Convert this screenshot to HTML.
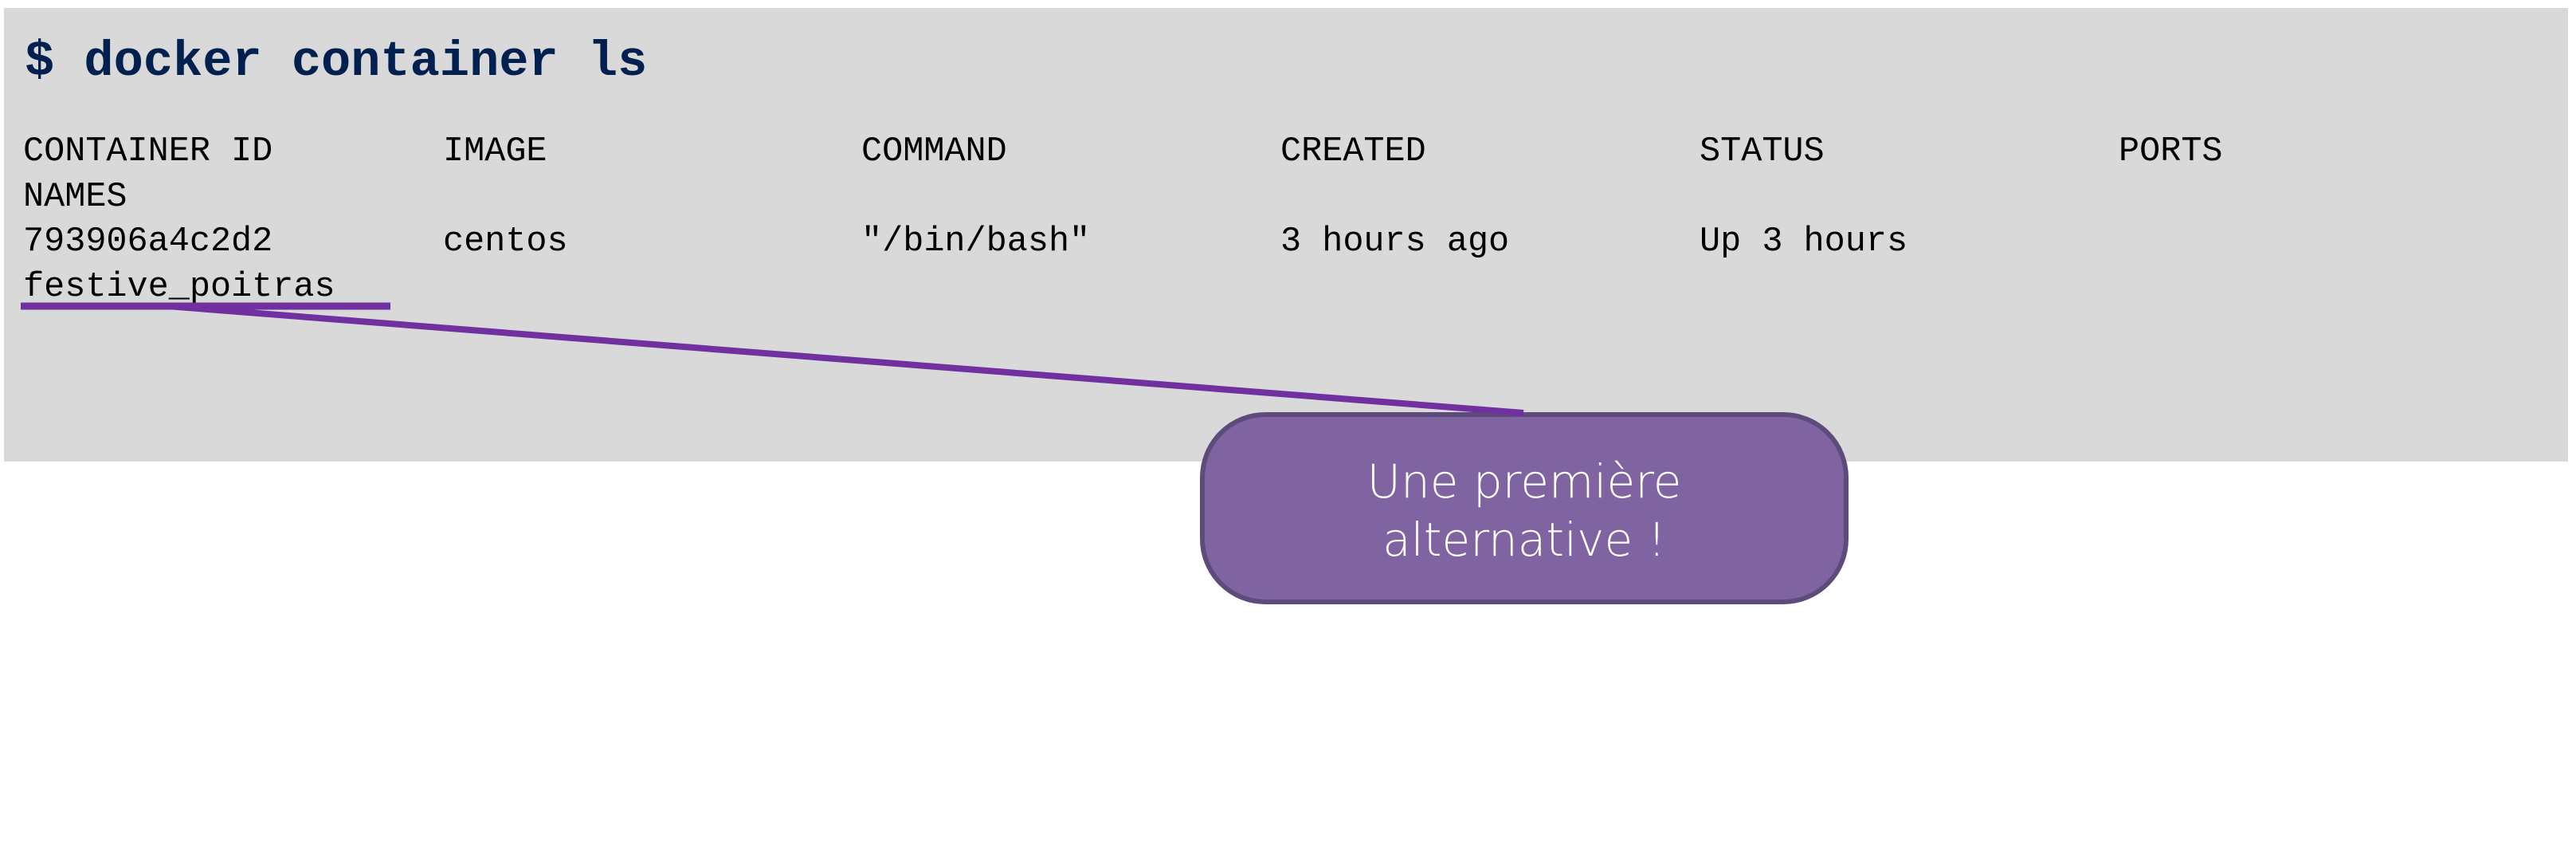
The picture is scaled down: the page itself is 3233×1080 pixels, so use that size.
<!DOCTYPE html>
<html><head><meta charset="utf-8"><style>
html,body{margin:0;padding:0;background:#fff;}
body{width:3233px;height:1080px;position:relative;overflow:hidden;}
#g{position:absolute;left:5px;top:10px;width:3218px;height:569px;background:#d9d9d9;}
.t{position:absolute;font-family:"Liberation Mono",monospace;white-space:pre;}
.h{font-size:62px;font-weight:bold;color:#002050;}
.r{font-size:43.5px;color:#000;}
#box{position:absolute;left:1506px;top:517px;width:802px;height:229px;background:#8064a2;border:6px solid #5f4a7c;border-radius:82px;box-sizing:content-box;}
#bt{position:absolute;left:1506px;top:568px;width:814px;text-align:center;color:#fff;font-family:"DejaVu Sans","Liberation Sans",sans-serif;font-weight:200;font-size:58px;line-height:73px;}
</style></head><body>
<div id="g"></div>
<div class="t h" style="left:31px;top:42px;">$ docker container ls</div>
<div class="t r" style="left:29px;top:166px;">CONTAINER ID</div>
<div class="t r" style="left:556px;top:166px;">IMAGE</div>
<div class="t r" style="left:1081px;top:166px;">COMMAND</div>
<div class="t r" style="left:1607px;top:166px;">CREATED</div>
<div class="t r" style="left:2133px;top:166px;">STATUS</div>
<div class="t r" style="left:2659px;top:166px;">PORTS</div>
<div class="t r" style="left:29px;top:223px;">NAMES</div>
<div class="t r" style="left:29px;top:279px;">793906a4c2d2</div>
<div class="t r" style="left:556px;top:279px;">centos</div>
<div class="t r" style="left:1081px;top:279px;">"/bin/bash"</div>
<div class="t r" style="left:1607px;top:279px;">3 hours ago</div>
<div class="t r" style="left:2133px;top:279px;">Up 3 hours</div>
<div class="t r" style="left:29px;top:336px;">festive_poitras</div>
<div id="box"></div>
<div id="bt">Une première<br>alternative !</div>
<svg style="position:absolute;left:0;top:0" width="3233" height="1080">
<line x1="26" y1="384" x2="490" y2="384" stroke="#7030a0" stroke-width="9"/>
<line x1="210" y1="384" x2="1912" y2="518" stroke="#7030a0" stroke-width="8"/>
</svg>
</body></html>
